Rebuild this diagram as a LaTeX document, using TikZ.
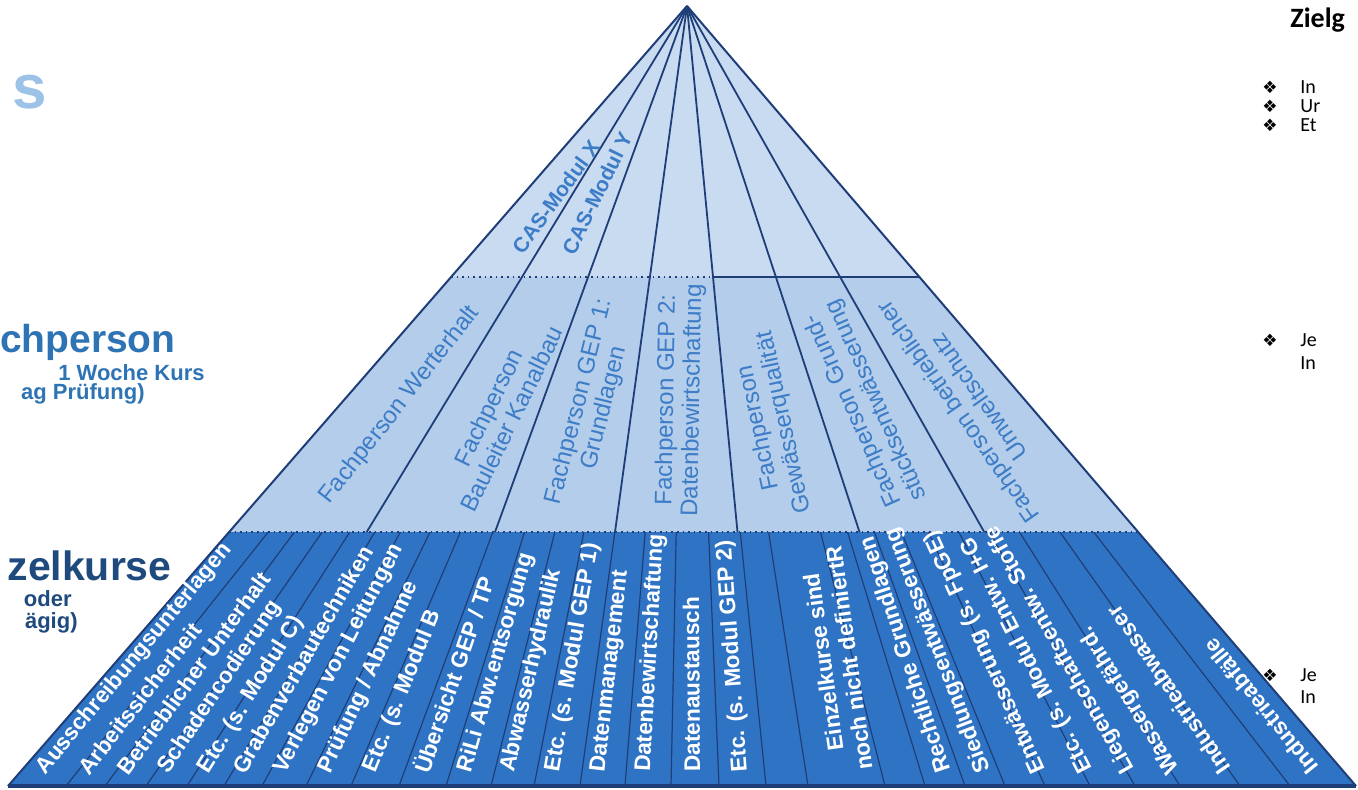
\documentclass[tikz,border=0pt]{standalone}
\usepackage{fontspec}
\setmainfont{Liberation Sans}
\newfontfamily\carl{Carlito}
\newfontfamily\djv{DejaVu Sans}
\usetikzlibrary{calc}
\definecolor{topfill}{HTML}{C8DBF1}
\definecolor{midfill}{HTML}{B3CDEB}
\definecolor{botfill}{HTML}{2F74C4}
\definecolor{edgec}{HTML}{1F3E78}
\definecolor{midtext}{HTML}{3D7CC6}
\definecolor{lefttext}{HTML}{2E74B5}
\definecolor{darktext}{HTML}{1F4A7E}
\definecolor{lightS}{HTML}{9CC2E8}
\newcommand\bline[1]{\draw[sepline] ($(A)!0.6744!(#1,786)$) -- (#1,786);}
\newcommand\blabel[2]{\node[blab, rotate={atan2(780,687-#1)}] at (#1,772) {#2};}
\begin{document}
\begin{tikzpicture}[x=0.5pt,y=-0.5pt,
  blab/.style={font=\bfseries\fontsize{11.3}{12}\selectfont, text=white, anchor=west, inner sep=0pt},
  mlab/.style={font=\fontsize{12}{13}\selectfont, text=midtext, align=center, inner sep=0pt},
  sepline/.style={draw=edgec, line width=0.6pt},
  apexline/.style={draw=edgec, line width=0.9pt},
  ltext/.style={anchor=base east, inner sep=0pt},
  rtext/.style={anchor=base west, inner sep=0pt, font=\carl\fontsize{10}{11}\selectfont},
  bul/.style={anchor=base west, inner sep=0pt, font=\djv\fontsize{8.5}{9}\selectfont}]
\useasboundingbox (0,0) rectangle (1358,789);
\fill[white] (0,0) rectangle (1358,789);
\coordinate (A) at (687,6);
% bands
\fill[topfill] (A) -- (451,277) -- (920,277) -- cycle;
\fill[midfill] (451,277) -- (920,277) -- (1138,532) -- (229,532) -- cycle;
\fill[botfill] (229,532) -- (1138,532) -- (1356,786) -- (8,786) -- cycle;
% bottom band separators
\foreach \xb in {66,105,146,187,224,262,306,351,399,446,491,534,580,625,671,719,766,808,885,925,965,1005,1045,1090,1135,1180,1240,1290}{\bline{\xb}}
% apex lines
\foreach \xb in {366.7,495,615,737.5,859.5,984.2}{\draw[apexline] (A) -- (\xb,532);}
% level lines
\draw[edgec, dotted, line width=0.8pt] (451,277) -- (713,277);
\draw[edgec, line width=0.9pt] (713,277) -- (920,277);
\draw[edgec, dotted, line width=0.8pt] (229,532) -- (1138,532);
% outline
\draw[edgec, line width=1pt] (A) -- (8,786);
\draw[edgec, line width=1pt] (A) -- (1356,786);
\draw[edgec, line width=2pt] (8,786) -- (1356,786);
% top labels
\node[font=\bfseries\fontsize{10.5}{11}\selectfont, text=midtext, rotate=54] at (556,197) {CAS-Modul X};
\node[font=\bfseries\fontsize{10.5}{11}\selectfont, text=midtext, rotate=64] at (597,193) {CAS-Modul Y};
% middle labels
\node[mlab, rotate=52] at (400,405) {Fachperson Werterhalt};
\node[mlab, rotate=64] at (500,413) {Fachperson\\Bauleiter Kanalbau};
\node[mlab, rotate=76] at (592,405) {Fachperson GEP 1:\\Grundlagen};
\node[mlab, rotate=89] at (680,400) {Fachperson GEP 2:\\Datenbewirtschaftung};
\node[mlab, rotate=102] at (772,425) {Fachperson\\Gewässerqualität};
\node[mlab, rotate=114] at (865,405) {Fachperson Grund-\\stücksentwässerung};
\node[mlab, rotate=125] at (968,405) {Fachperson betrieblicher\\Umweltschutz};
% bottom labels
\blabel{41}{Ausschreibungsunterlagen}
\blabel{83}{Arbeitssicherheit}
\blabel{122}{Betrieblicher Unterhalt}
\blabel{163}{Schadencodierung}
\blabel{203}{Etc. (s. Modul C)}
\blabel{238}{Grabenverbautechniken}
\blabel{280}{Verlegen von Leitungen}
\blabel{325}{Prüfung / Abnahme}
\blabel{370}{Etc. (s. Modul B}
\blabel{420}{Übersicht GEP / TP}
\blabel{465}{RiLi Abw.entsorgung}
\blabel{508}{Abwasserhydraulik}
\blabel{553}{Etc. (s. Modul GEP 1)}
\blabel{599}{Datenmanagement}
\blabel{644}{Datenbewirtschaftung}
\blabel{692}{Datenaustausch}
\blabel{741}{Etc. (s. Modul GEP 2)}
\node[font=\bfseries\fontsize{11.3}{13}\selectfont, text=white, align=center, inner sep=0pt, rotate=98] at (836,660) {Einzelkurse sind\\noch nicht definiertR};
\blabel{945}{Rechtliche Grundlagen}
\blabel{985}{Siedlungsentwässerung}
\blabel{1040}{Entwässerung (s. FpGE)}
\blabel{1087}{Etc. (s. Modul Entw. I+G}
\blabel{1130}{Liegenschaftsentw. Stoffe}
\blabel{1175}{Wassergefährd.}
\blabel{1225}{Industrieabwasser}
\blabel{1313}{Industrieabfälle}
% left texts
\node[ltext, font=\bfseries\fontsize{31}{34}\selectfont, text=lightS] at (47,108) {s};
\node[ltext, font=\bfseries\fontsize{19.5}{22}\selectfont, text=lefttext] at (176,352) {chperson};
\node[ltext, font=\bfseries\fontsize{11}{12}\selectfont, text=lefttext] at (205,380) {1 Woche Kurs};
\node[ltext, font=\bfseries\fontsize{11}{12}\selectfont, text=lefttext] at (145,399) {ag Prüfung)};
\node[ltext, font=\bfseries\fontsize{20.5}{22}\selectfont, text=darktext] at (172,580) {zelkurse};
\node[ltext, font=\bfseries\fontsize{11}{12}\selectfont, text=darktext] at (72,606) {oder};
\node[ltext, font=\bfseries\fontsize{11}{12}\selectfont, text=darktext] at (78,628) {ägig)};
% right texts
\node[anchor=base west, inner sep=0pt, font=\carl\bfseries\fontsize{14}{15}\selectfont] at (1290,27) {Zielg};
\foreach \yy/\tt in {93/In,112/Ur,131/Et,346/Je,681/Je}{
  \node[bul] at (1262,\yy) {❖};
  \node[rtext] at (1300,\yy) {\tt};}
\node[rtext] at (1300,369) {In};
\node[rtext] at (1300,703) {In};
\end{tikzpicture}
\end{document}
